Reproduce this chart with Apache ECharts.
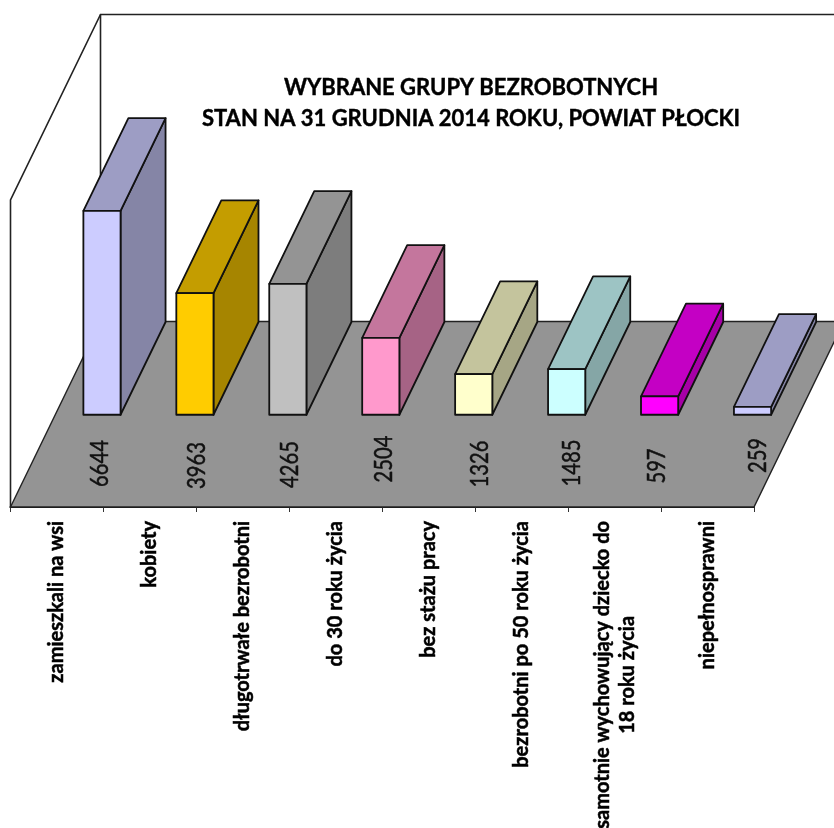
<!DOCTYPE html>
<html>
<head>
<meta charset="utf-8">
<style>html,body{margin:0;padding:0;background:#fff}#chart{width:834px;height:828px}</style>
<script src="https://cdn.jsdelivr.net/npm/echarts@6/dist/echarts.min.js"></script>
</head>
<body>
<div id="chart"></div>
<script>
var categories = ["zamieszkali na wsi", "kobiety", "długotrwałe bezrobotni", "do 30 roku życia", "bez stażu pracy", "bezrobotni po 50 roku życia", "samotnie wychowujący dziecko do\n18 roku życia", "niepełnosprawni"];
var values = [6644, 3963, 4265, 2504, 1326, 1485, 597, 259];
var barColors = ["#CCCCFF", "#FFCC00", "#C0C0C0", "#FF99CC", "#FFFFCC", "#CCFFFF", "#FF00FF", "#CCCCFF"];
var titleLines = ["WYBRANE GRUPY BEZROBOTNYCH", "STAN NA 31 GRUDNIA 2014 ROKU, POWIAT PŁOCKI"];

// oblique projection of the floor, in pixels
var depthX = 90, depthY = 185.5;
// data labels were moved by hand in the original, offset from the category centre on the axis
var labelShift = [[43, -43.5], [47.5, -41.5], [47.5, -42.5], [48, -48], [51, -43], [50, -44], [42, -41], [50, -51.5]];

function shade(hex, k) {
  var n = parseInt(hex.slice(1), 16);
  var r = Math.round((n >> 16 & 255) * k), g = Math.round((n >> 8 & 255) * k), b = Math.round((n & 255) * k);
  return "rgb(" + r + "," + g + "," + b + ")";
}

function poly(points, fill) {
  return {type: "polygon", shape: {points: points}, style: {fill: fill, stroke: "#111", lineWidth: 1.8, lineJoin: "round"}};
}

function renderWalls(params, api) {
  var c = params.coordSys;
  var left = c.x, right = c.x + c.width, top = c.y, bottom = c.y + c.height;
  var lineStyle = {stroke: "#222", lineWidth: 1.6, fill: "none"};
  return {
    type: "group",
    children: [
      {type: "polyline", shape: {points: [[left, bottom], [left, top], [left + depthX, top - depthY], [right + depthX, top - depthY]]}, style: lineStyle},
      {type: "line", shape: {x1: left + depthX, y1: top - depthY, x2: left + depthX, y2: bottom - depthY}, style: lineStyle},
      {type: "polygon", shape: {points: [[left, bottom], [left + depthX, bottom - depthY], [right + depthX, bottom - depthY], [right, bottom]]},
        style: {fill: "#949494", stroke: "#222", lineWidth: 1.4}}
    ]
  };
}

function renderBar(params, api) {
  var i = api.value(0);
  var base = api.coord([i, 0]);
  var head = api.coord([i, api.value(1)]);
  var w = api.size([1, 0])[0] * 0.4;
  var color = barColors[i];
  // bars stand on the back half of the floor
  var x0 = base[0] + depthX / 2 - w / 2, x1 = x0 + w;
  var y0 = base[1] - depthY / 2 + 0.5, y1 = head[1] - depthY / 2 + 0.5;
  var dx = depthX / 2, dy = depthY / 2;
  return {
    type: "group",
    children: [
      poly([[x1, y0], [x1 + dx, y0 - dy], [x1 + dx, y1 - dy], [x1, y1]], shade(color, 0.65)),
      poly([[x0, y1], [x0 + dx, y1 - dy], [x1 + dx, y1 - dy], [x1, y1]], shade(color, 0.77)),
      poly([[x0, y0], [x1, y0], [x1, y1], [x0, y1]], color)
    ]
  };
}

function renderValue(params, api) {
  var i = api.value(0);
  var p = api.coord([i, 0]);
  return {
    type: "text",
    x: p[0] + labelShift[i][0],
    y: p[1] + labelShift[i][1],
    rotation: Math.PI / 2,
    scaleX: 0.81, // the original digits are tall and narrow
    style: {text: String(api.value(1)), font: "25px Lato", fill: "#111", stroke: "#111", lineWidth: 0.5, align: "center", verticalAlign: "middle"}
  };
}

var chart = echarts.init(document.getElementById("chart"), null, {renderer: "canvas"});
var seriesData = values.map(function (v, i) { return [i, v]; });

var option = {
  animation: false,
  backgroundColor: "#fff",
  title: {
    text: titleLines.join("\n"),
    left: 466,
    top: 67,
    textAlign: "center",
    textStyle: {fontFamily: "Lato", fontWeight: "bold", fontSize: 22, lineHeight: 31, color: "#000", textBorderColor: "#000", textBorderWidth: 0.4}
  },
  grid: {left: 10.5, right: 80, top: 200, bottom: 321, containLabel: false, outerBoundsMode: "none"},
  xAxis: {
    type: "category",
    data: categories,
    axisLine: {lineStyle: {color: "#111", width: 2}},
    axisTick: {show: true, length: 5, lineStyle: {color: "#333", width: 1}, alignWithLabel: false},
    axisLabel: {
      interval: 0,
      rotate: 90,
      margin: 14,
      color: "#000",
      fontFamily: "Lato",
      fontWeight: "bold",
      fontSize: 20,
      lineHeight: 25,
      hideOverlap: false,
      formatter: function (name) {
        return name.split("\n").map(function (line) { return "{l|" + line + "}"; }).join("\n");
      },
      rich: {l: {align: "center", fontFamily: "Lato", fontWeight: "bold", fontSize: 20, lineHeight: 25, color: "#000", textBorderColor: "#000", textBorderWidth: 0.5}}
    }
  },
  yAxis: {type: "value", min: 0, max: 10000, interval: 2000, show: false, splitLine: {show: false}},
  series: [
    {type: "custom", name: "walls", renderItem: renderWalls, data: [[0, 0]], clip: false, silent: true, z: 1},
    {type: "custom", name: "bars", renderItem: renderBar, data: seriesData, clip: false, z: 2},
    {type: "custom", name: "values", renderItem: renderValue, data: seriesData, clip: false, z: 3}
  ]
};
chart.setOption(option);
</script>
</body>
</html>
